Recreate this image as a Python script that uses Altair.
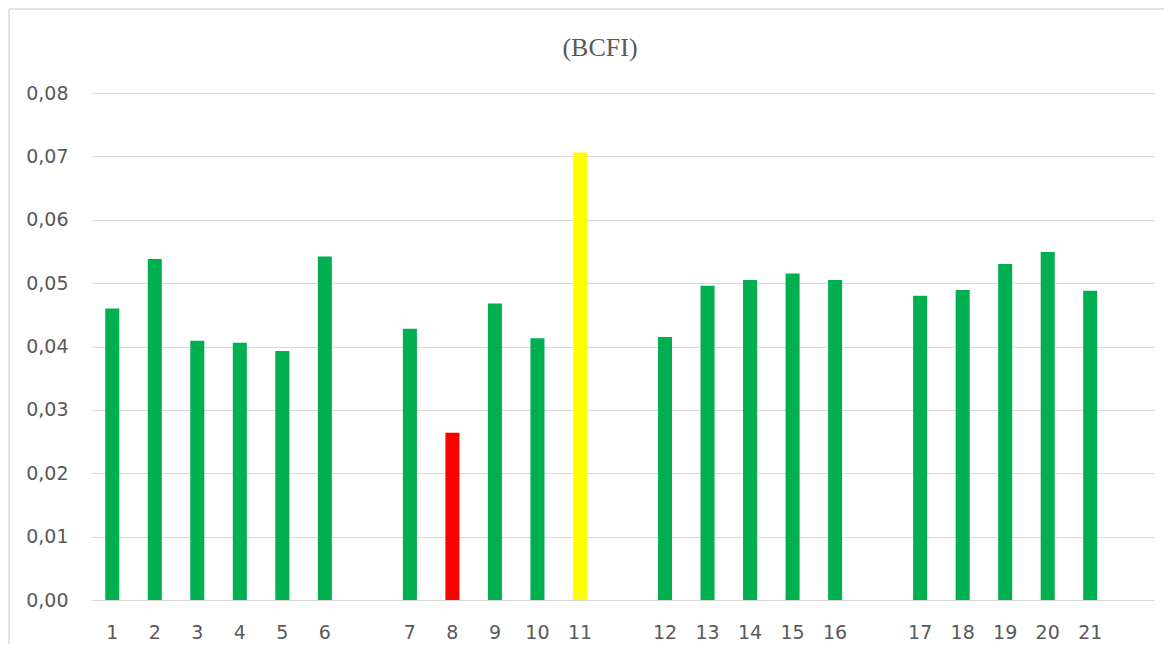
import altair as alt
import pandas as pd

# Slots along the x axis (gaps are empty categories)
slots = ["1", "2", "3", "4", "5", "6", "g1",
         "7", "8", "9", "10", "11", "g2",
         "12", "13", "14", "15", "16", "g3",
         "17", "18", "19", "20", "21", "g4"]

categories = [str(i) for i in range(1, 22)]
values = [0.0460, 0.0538, 0.0409, 0.0406, 0.0393, 0.0542,
          0.0428, 0.0264, 0.0468, 0.0413, 0.0706,
          0.0415, 0.0496, 0.0505, 0.0515, 0.0505,
          0.0480, 0.0489, 0.0530, 0.0549, 0.0488]
groups = ["normal"] * 7 + ["low"] + ["normal"] * 2 + ["high"] + ["normal"] * 10

title_text = "(BCFI)"
y_ticks = [0, 0.01, 0.02, 0.03, 0.04, 0.05, 0.06, 0.07, 0.08]

df = pd.DataFrame({"cat": categories, "value": values, "group": groups})

W, H = 1063, 507
GRAY = "#595959"
GRID = "#d9d9d9"

bars = alt.Chart(df).mark_bar().encode(
    x=alt.X("cat:N", sort=slots,
            scale=alt.Scale(domain=slots, paddingInner=0.67, paddingOuter=0.335),
            axis=alt.Axis(title=None, labelAngle=0, ticks=False, domain=False,
                          grid=False, labelPadding=23, labelFontSize=19,
                          labelFont="DejaVu Sans", labelColor=GRAY,
                          labelExpr="indexof(datum.label, 'g') == 0 ? '' : datum.label")),
    y=alt.Y("value:Q",
            scale=alt.Scale(domain=[0, 0.08], nice=False),
            axis=alt.Axis(title=None, values=y_ticks, format=".2f",
                          labelExpr="replace(datum.label, '.', ',')",
                          ticks=False, domain=False, grid=True, gridColor=GRID,
                          gridWidth=1.2, labelPadding=23, labelFontSize=19,
                          labelFont="DejaVu Sans", labelColor=GRAY)),
    color=alt.Color("group:N",
                    scale=alt.Scale(domain=["normal", "low", "high"],
                                    range=["#00B050", "#FF0000", "#FFFF00"]),
                    legend=None),
)

title = alt.Chart(pd.DataFrame({"t": [title_text]})).mark_text(
    font="Liberation Serif", fontSize=26, color=GRAY, baseline="alphabetic", align="center"
).encode(text="t:N", x=alt.value(509), y=alt.value(-37))

border_left = alt.Chart(pd.DataFrame({"b": [0]})).mark_rule(color=GRID, strokeWidth=1.5).encode(
    x=alt.value(-82), y=alt.value(-84), y2=alt.value(H + 60))
border_top = alt.Chart(pd.DataFrame({"b": [0]})).mark_rule(color=GRID, strokeWidth=1.5).encode(
    x=alt.value(-82), x2=alt.value(W + 30), y=alt.value(-84))

chart = alt.layer(border_left, border_top, bars, title).properties(
    width=W, height=H,
    background="white",
    autosize=alt.AutoSizeParams(type="none"),
    padding={"left": 83, "top": 85, "right": 10, "bottom": 44},
).configure_view(stroke=None)

chart.save("out.html", embed_options={"renderer": "svg", "actions": False})
